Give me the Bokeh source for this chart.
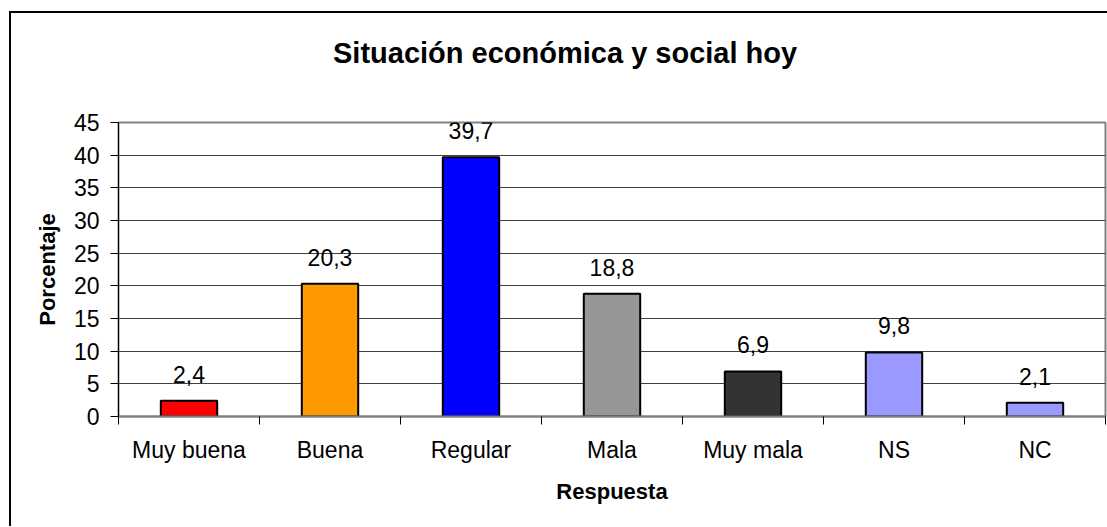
from bokeh.plotting import figure
from bokeh.models import FixedTicker, Range1d, ColumnDataSource, LabelSet, Div
from bokeh.layouts import column
from bokeh.embed import file_html
from bokeh.resources import INLINE
from bokeh.core.properties import value

categories = ["Muy buena", "Buena", "Regular", "Mala", "Muy mala", "NS", "NC"]
values = [2.4, 20.3, 39.7, 18.8, 6.9, 9.8, 2.1]
colors = ["#FF0000", "#FF9900", "#0000FF", "#969696", "#333333", "#9999FF", "#9999FF"]
y_ticks = [0, 5, 10, 15, 20, 25, 30, 35, 40, 45]
title_text = "Situación económica y social hoy"

FONT = "Liberation Sans"

xs = list(range(len(categories)))
labels = [f"{v:.1f}".replace(".", ",") for v in values]
src = ColumnDataSource(dict(x=xs, top=values, color=colors, label=labels))

title_div = Div(
    text=(f'<div style="font-family:\'{FONT}\';font-size:29px;font-weight:bold;color:black;'
          f'line-height:33px;padding-top:24px;padding-left:322px;white-space:nowrap;">{title_text}</div>'),
    width=1096, height=70, margin=(0, 0, 0, 0))

p = figure(width=1096, height=443, output_backend="svg", toolbar_location=None,
           x_range=Range1d(-0.5, len(categories) - 0.5), y_range=Range1d(0, 45),
           min_border_left=107, min_border_right=2, min_border_top=39, min_border_bottom=110)
p.margin = (0, 0, 0, 0)

p.vbar(x="x", top="top", width=0.4, fill_color="color", line_color="black", line_width=2, source=src)
p.add_layout(LabelSet(x="x", y="top", text="label", text_align="center", text_baseline="alphabetic",
                      y_offset=18, text_font=value(FONT), text_font_size="23px", text_color="black",
                      source=src))

# y axis
p.yaxis.ticker = FixedTicker(ticks=y_ticks)
p.yaxis.axis_label = "Porcentaje"
p.yaxis.axis_label_text_font = FONT
p.yaxis.axis_label_text_font_size = "22px"
p.yaxis.axis_label_text_font_style = "bold"
p.yaxis.axis_label_text_color = "black"
p.yaxis.axis_label_standoff = 11
p.yaxis.major_label_text_font = FONT
p.yaxis.major_label_text_font_size = "23px"
p.yaxis.major_label_text_color = "black"
p.yaxis.major_label_standoff = 11
p.yaxis.major_tick_out = 8
p.yaxis.major_tick_in = 0
p.yaxis.minor_tick_line_color = None
p.yaxis.axis_line_color = "black"
p.yaxis.major_tick_line_color = "black"

# x axis
p.xaxis.ticker = FixedTicker(ticks=xs, minor_ticks=[i - 0.5 for i in range(len(categories) + 1)])
p.xaxis.major_label_overrides = {i: c for i, c in zip(xs, categories)}
p.xaxis.major_tick_line_color = None
p.xaxis.minor_tick_out = 8
p.xaxis.minor_tick_in = 0
p.xaxis.minor_tick_line_color = "black"
p.xaxis.axis_line_color = "#808080"
p.xaxis.axis_line_width = 2
p.xaxis.axis_label = "Respuesta"
p.xaxis.axis_label_text_font = FONT
p.xaxis.axis_label_text_font_size = "22px"
p.xaxis.axis_label_text_font_style = "bold"
p.xaxis.axis_label_text_color = "black"
p.xaxis.axis_label_standoff = 13
p.xaxis.major_label_text_font = FONT
p.xaxis.major_label_text_font_size = "23px"
p.xaxis.major_label_text_color = "black"
p.xaxis.major_label_standoff = 12

p.xgrid.grid_line_color = None
p.ygrid.grid_line_color = "#404040"
p.ygrid.grid_line_width = 1
p.ygrid.ticker = FixedTicker(ticks=y_ticks)

p.outline_line_color = "#808080"
p.outline_line_width = 2
p.background_fill_color = "white"
p.border_fill_color = "white"

layout = column(title_div, p, spacing=0,
                styles={"border-left": "2px solid black", "border-top": "2px solid black",
                        "margin-left": "9px", "margin-top": "11px", "background-color": "white"})

open("out.html", "w").write(file_html(layout, INLINE))
